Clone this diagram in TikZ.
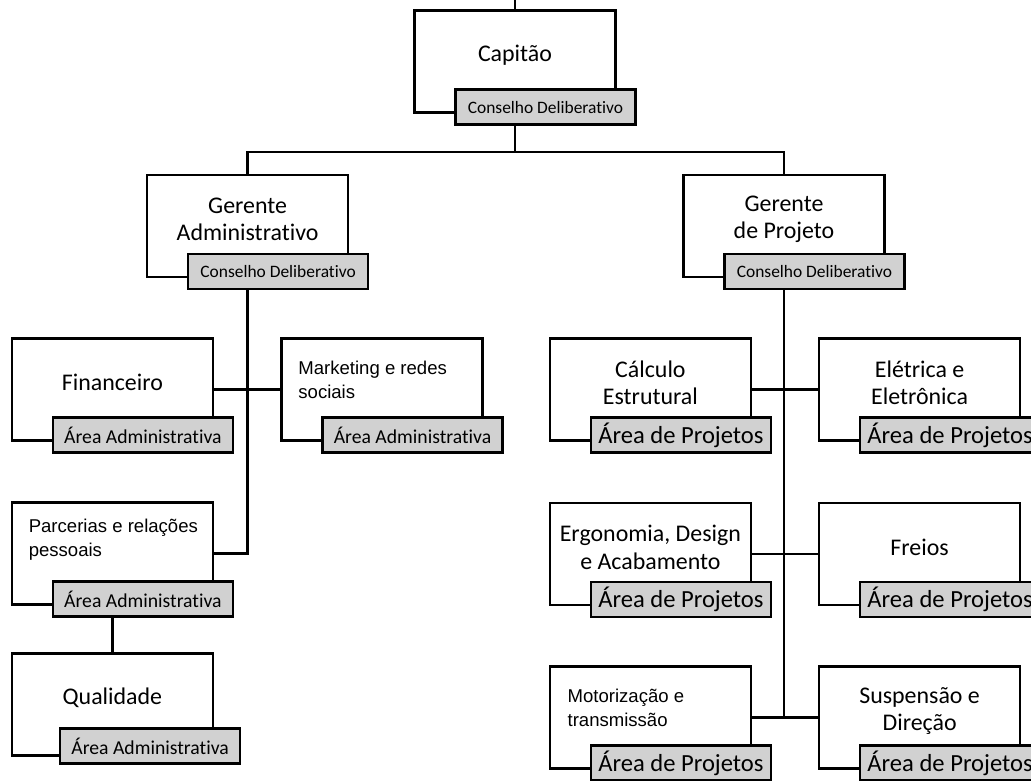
\documentclass[tikz,border=0pt]{standalone}
\usepackage{fontspec}
\setmainfont{Carlito}[Ligatures=NoCommon]
\newfontfamily\arialfont{Liberation Sans}
\definecolor{tabgray}{RGB}{209,209,209}
\tikzset{
  unit/.style={draw, line width=1.8pt, minimum width=5.025cm, minimum height=2.55cm, inner sep=0pt},
  tab/.style={draw, fill=tabgray, line width=1.8pt, minimum width=4.5cm, minimum height=0.875cm, inner sep=0pt, anchor=south east},
  council/.style={tab, font=\fontsize{12.4}{14}\selectfont},
  admtab/.style={tab, font=\fontsize{14}{16}\selectfont},
  projtab/.style={tab, font=\fontsize{17.5}{20}\selectfont},
  title/.style={align=center, font=\fontsize{17}{19.5}\selectfont},
  note/.style={align=left, anchor=west, font=\arialfont\fontsize{13.2}{16.8}\selectfont},
  link/.style={line width=1.8pt},
}
\begin{document}
\begin{tikzpicture}
  \useasboundingbox (0,0) rectangle (25.775,-19.525);
  % top
  \node[unit] (capt) at (12.875,-1.54) {};
  \node[title] (capt-t) at ([yshift=0.17cm]capt.center) {Capitão};
  \node[council] (capt-tab) at ([shift={(0.5,-0.3)}]capt.south east) {Conselho Deliberativo};
  \coordinate (top) at (capt.north |- 0,0);
  \coordinate (split) at (capt.center |- 0,-3.8);
  % managers
  \node[unit] (gadm) at (6.19,-5.65) {};
  \node[title] (gadm-t) at ([yshift=0.17cm]gadm.center) {Gerente\\Administrativo};
  \node[council] (gadm-tab) at ([shift={(0.5,-0.3)}]gadm.south east) {Conselho Deliberativo};
  \node[unit] (gproj) at (19.6,-5.65) {};
  \node[title] (gproj-t) at ([yshift=0.17cm]gproj.center) {Gerente\\de Projeto};
  \node[council] (gproj-tab) at ([shift={(0.5,-0.3)}]gproj.south east) {Conselho Deliberativo};
  % administrative area
  \node[unit] (fin) at (2.81,-9.74) {};
  \node[title] (fin-t) at ([yshift=0.17cm]fin.center) {Financeiro};
  \node[admtab] (fin-tab) at ([shift={(0.5,-0.3)}]fin.south east) {Área Administrativa};
  \node[unit] (mkt) at (9.55,-9.74) {};
  \node[note] (mkt-t) at ([shift={(0.33,0.24)}]mkt.west) {Marketing e redes\\sociais};
  \node[admtab] (mkt-tab) at ([shift={(0.5,-0.3)}]mkt.south east) {Área Administrativa};
  \node[unit] (parc) at (2.81,-13.84) {};
  \node[note] (parc-t) at ([shift={(0.33,0.34)}]parc.west) {Parcerias e relações\\pessoais};
  \node[admtab] (parc-tab) at ([shift={(0.5,-0.3)}]parc.south east) {Área Administrativa};
  \node[unit] (qual) at (2.81,-17.61) {};
  \node[title] (qual-t) at ([yshift=0.17cm]qual.center) {Qualidade};
  \node[admtab] (qual-tab) at ([shift={(0.68,-0.2)}]qual.south east) {Área Administrativa};
  % project area
  \node[unit] (calc) at (16.26,-9.74) {};
  \node[title] (calc-t) at ([yshift=0.17cm]calc.center) {Cálculo\\Estrutural};
  \node[projtab] (calc-tab) at ([shift={(0.5,-0.3)}]calc.south east) {Área de Projetos};
  \node[unit] (elet) at (22.99,-9.74) {};
  \node[title] (elet-t) at ([yshift=0.17cm]elet.center) {Elétrica e\\Eletrônica};
  \node[projtab] (elet-tab) at ([shift={(0.5,-0.3)}]elet.south east) {Área de Projetos};
  \node[unit] (ergo) at (16.26,-13.85) {};
  \node[title] (ergo-t) at ([yshift=0.17cm]ergo.center) {Ergonomia, Design\\e Acabamento};
  \node[projtab] (ergo-tab) at ([shift={(0.5,-0.3)}]ergo.south east) {Área de Projetos};
  \node[unit] (freios) at (22.99,-13.85) {};
  \node[title] (freios-t) at ([yshift=0.17cm]freios.center) {Freios};
  \node[projtab] (freios-tab) at ([shift={(0.5,-0.3)}]freios.south east) {Área de Projetos};
  \node[unit] (mot) at (16.26,-17.94) {};
  \node[note] (mot-t) at ([shift={(0.35,0.24)}]mot.west) {Motorização e\\transmissão};
  \node[projtab] (mot-tab) at ([shift={(0.5,-0.3)}]mot.south east) {Área de Projetos};
  \node[unit] (susp) at (22.99,-17.94) {};
  \node[title] (susp-t) at ([yshift=0.17cm]susp.center) {Suspensão e\\Direção};
  \node[projtab] (susp-tab) at ([shift={(0.5,-0.3)}]susp.south east) {Área de Projetos};
  % links
  \draw[link] (capt.north) -- (top);
  \draw[link] (capt.south |- capt-tab.south) -- (split);
  \draw[link] (gadm.north) |- (split) -| (gproj.north);
  \draw[link] (gadm.south |- gadm-tab.south) |- (parc.east);
  \draw[link] (fin.east) -- (mkt.west);
  \draw[link] (parc.south |- parc-tab.south) -- (qual.north);
  \draw[link] (gproj.south |- gproj-tab.south) |- (mot.east);
  \draw[link] (calc.east) -- (elet.west);
  \draw[link] (ergo.east) -- (freios.west);
  \draw[link] (mot.east) -- (susp.west);
\end{tikzpicture}
\end{document}
